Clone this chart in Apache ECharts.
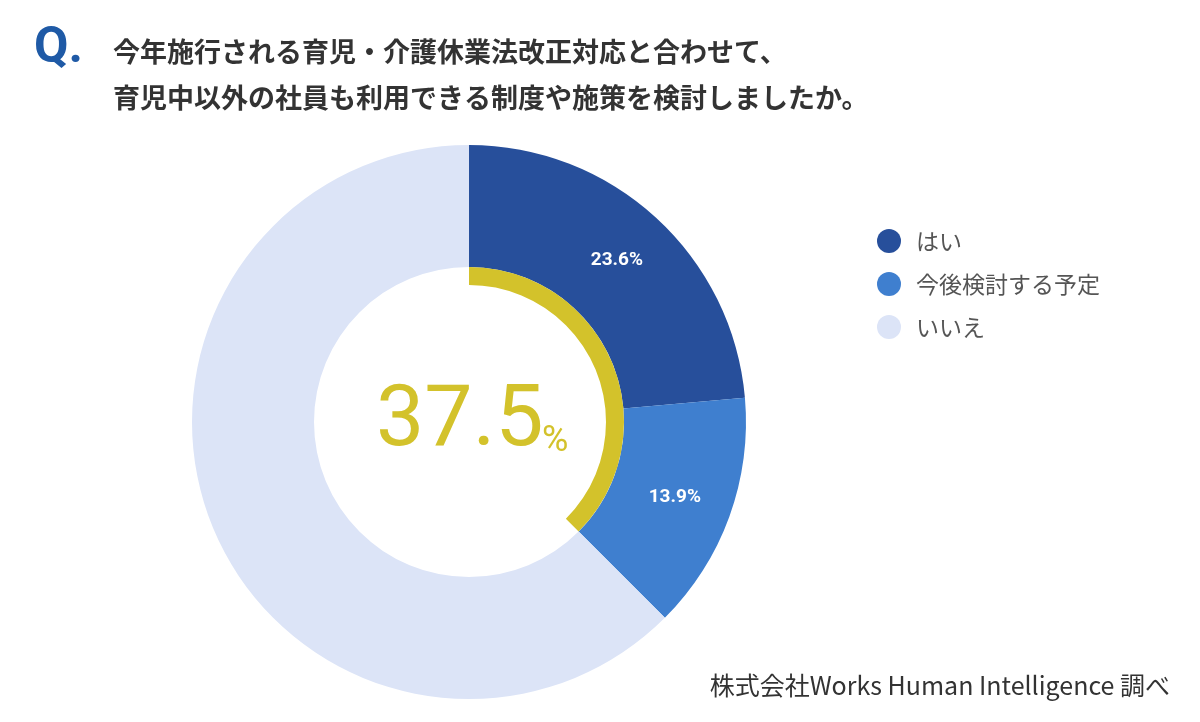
<!DOCTYPE html>
<html><head><meta charset="utf-8">
<script src="https://cdn.jsdelivr.net/npm/echarts@6/dist/echarts.min.js"></script>
<style>html,body{margin:0;padding:0;background:#fff}#c{width:1200px;height:722px}</style>
</head><body><div id="c"></div>
<script>
const categories = ['はい', '今後検討する予定', 'いいえ'];
const values = [23.6, 13.9, 62.5];
const colors = ['#274f9b', '#3f7fcf', '#dce4f7'];
const highlight = [37.5, 62.5];
const font = '"Noto Sans CJK JP","Noto Sans",sans-serif';
const chart = echarts.init(document.getElementById('c'));
chart.setOption({
  animation: false,
  textStyle: { fontFamily: font },
  legend: {
    orient: 'vertical', left: 872, top: 224, itemGap: 19,
    icon: 'circle', itemWidth: 24, itemHeight: 24,
    textStyle: { fontSize: 23, color: '#555', fontFamily: font, padding: [0, 0, 0, 10] },
    data: categories
  },
  graphic: [
    { type: 'text', left: 34, top: 24, style: { text: 'Q.', fontSize: 50, fontWeight: 'bold', fill: '#1f5aa6', fontFamily: 'Roboto' } },
    { type: 'text', left: 113, top: 29, style: { text: '今年施行される育児・介護休業法改正対応と合わせて、\n育児中以外の社員も利用できる制度や施策を検討しましたか。', fontSize: 27, lineHeight: 46, fontWeight: 'bold', fill: '#333', fontFamily: font } },
    { type: 'text', left: 376, top: 380, style: { text: '37.5', fontSize: 86, fill: '#d3c22b', fontFamily: 'Roboto' } },
    { type: 'text', left: 542, top: 424, style: { text: '%', fontSize: 36, fill: '#d3c22b', fontFamily: 'Roboto' } },
    { type: 'text', right: 30, top: 673, style: { text: '株式会社Works Human Intelligence 調べ', fontSize: 25, fill: '#333', fontFamily: font } }
  ],
  series: [
    {
      type: 'pie', center: [469, 422], radius: [155, 277], startAngle: 90, clockwise: true,
      label: { position: 'inside', formatter: p => p.dataIndex < 2 ? p.value + '%' : '', color: '#fff', fontSize: 19, fontWeight: 'bold', fontFamily: 'Roboto' },
      labelLine: { show: false },
      data: categories.map((n, i) => ({ name: n, value: values[i], itemStyle: { color: colors[i] } }))
    },
    {
      type: 'pie', center: [469, 422], radius: [137, 155], startAngle: 90, clockwise: true, silent: true,
      label: { show: false }, labelLine: { show: false },
      data: [
        { name: 'hl', value: highlight[0], itemStyle: { color: '#d3c22b' } },
        { name: 'rest', value: highlight[1], itemStyle: { color: 'rgba(0,0,0,0)' } }
      ]
    }
  ]
});
</script></body></html>
